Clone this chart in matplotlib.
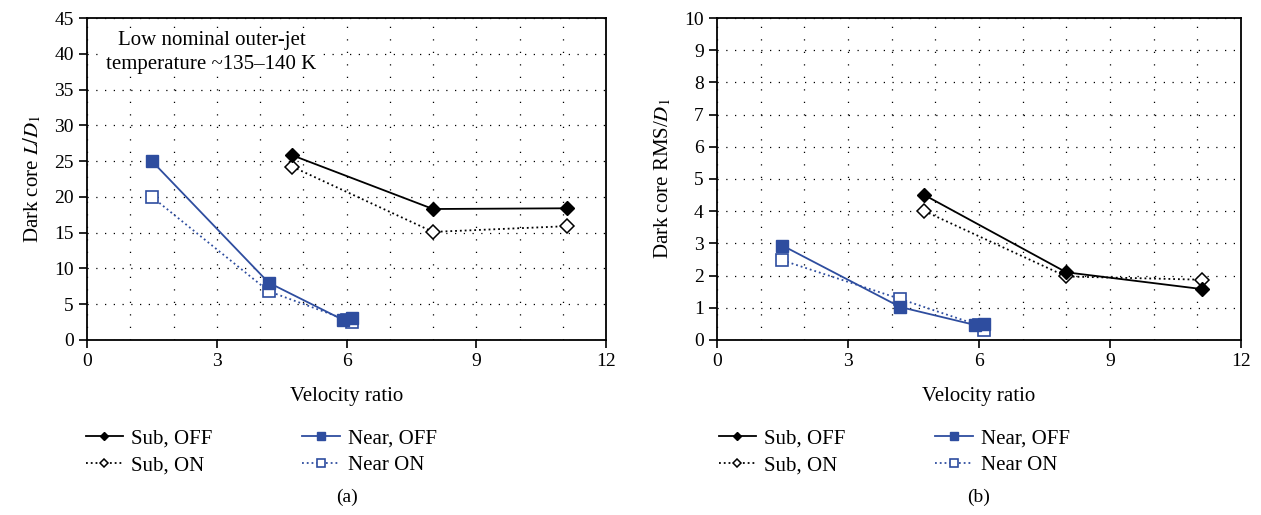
import matplotlib.pyplot as plt
import numpy as np

plt.rcParams['font.family'] = ['Liberation Serif', 'DejaVu Serif']
plt.rcParams['mathtext.fontset'] = 'stix'

# velocity ratio / dark core length (panel a)
sub_x = [4.75, 8.0, 11.1]
sub_off_L = [25.8, 18.3, 18.4]
sub_on_L = [24.2, 15.1, 15.9]
near_off_x = [1.5, 4.2, 5.92, 6.12]
near_off_L = [25.0, 8.0, 2.8, 3.1]
near_on_x = [1.5, 4.2, 6.0, 6.12]
near_on_L = [20.0, 6.8, 2.8, 2.5]

# dark core RMS (panel b)
sub_off_rms = [4.5, 2.1, 1.58]
sub_on_rms = [4.0, 1.97, 1.87]
near_off_rms = [2.93, 1.02, 0.46, 0.48]
near_on_rms = [2.47, 1.27, 0.45, 0.31]

blue = '#2e4d9f'

fig = plt.figure(figsize=(12.61, 5.15), dpi=100)
ax1 = fig.add_axes([0.069, 0.34, 0.4116, 0.625])
ax2 = fig.add_axes([0.5686, 0.34, 0.4155, 0.625])


def draw(ax, soff, son, noff, non, ymax, ystep):
    h1, = ax.plot(sub_x, soff, '-', color='black', lw=1.3, marker='D', ms=7,
                  mfc='black', mec='black', label='Sub, OFF', zorder=4)
    h2, = ax.plot(sub_x, son, ':', color='black', lw=1.3, marker='D', ms=7,
                  mfc='white', mec='black', mew=1.1, label='Sub, ON', zorder=3)
    h3, = ax.plot(near_off_x, noff, '-', color=blue, lw=1.3, marker='s', ms=8,
                  mfc=blue, mec=blue, label='Near, OFF', zorder=4)
    h4, = ax.plot(near_on_x, non, ':', color=blue, lw=1.3, marker='s', ms=8,
                  mfc='white', mec=blue, mew=1.2, label='Near ON', zorder=3)
    ax.set_xlim(0, 12)
    ax.set_ylim(0, ymax)
    ax.set_xticks(np.arange(0, 13, 3))
    ax.set_yticks(np.arange(0, ymax + 0.1, ystep))
    ax.set_xticks(np.arange(0, 13, 1), minor=True)
    ax.tick_params(which='minor', length=0)
    ax.tick_params(which='major', direction='out', length=6, width=1.2,
                   labelsize=14)
    ax.grid(True, which='both', axis='x', color='black', lw=0.9,
            linestyle=(0, (1, 9)))
    ax.grid(True, which='major', axis='y', color='black', lw=0.9,
            linestyle=(0, (1, 6)))
    for s in ax.spines.values():
        s.set_linewidth(1.3)
    ax.set_xlabel('Velocity ratio', fontsize=15, labelpad=12)
    return [h1, h2, h3, h4]


hs = draw(ax1, sub_off_L, sub_on_L, near_off_L, near_on_L, 45, 5)
draw(ax2, sub_off_rms, sub_on_rms, near_off_rms, near_on_rms, 10, 1)

ax1.set_ylabel('Dark core $L/D_1$', fontsize=15, labelpad=8)
ax2.set_ylabel('Dark core RMS/$D_1$', fontsize=15, labelpad=8)

ax1.text(0.24, 0.893, 'Low nominal outer-jet\ntemperature ~135\u2013140 K',
         transform=ax1.transAxes, ha='center', va='center', fontsize=15,
         linespacing=1.4, bbox=dict(fc='white', ec='none', pad=1))

for ax, tag, x0, cs in [(ax1, '(a)', 0.053, 4.3), (ax2, '(b)', 0.555, 4.3)]:
    leg = fig.legend(hs, [h.get_label() for h in hs], ncol=2, frameon=False,
                     loc='upper left', bbox_to_anchor=(x0, 0.204), fontsize=15,
                     handlelength=1.8, columnspacing=cs, labelspacing=0.35,
                     handletextpad=0.4)
    for lh in leg.legend_handles:
        lh.set_markersize(4.5 if lh.get_marker() == 'D' else 5.5)
    fig.text(ax.get_position().x0 + ax.get_position().width / 2, 0.035, tag,
             ha='center', va='center', fontsize=14)

fig.savefig('out.png', dpi=100)
